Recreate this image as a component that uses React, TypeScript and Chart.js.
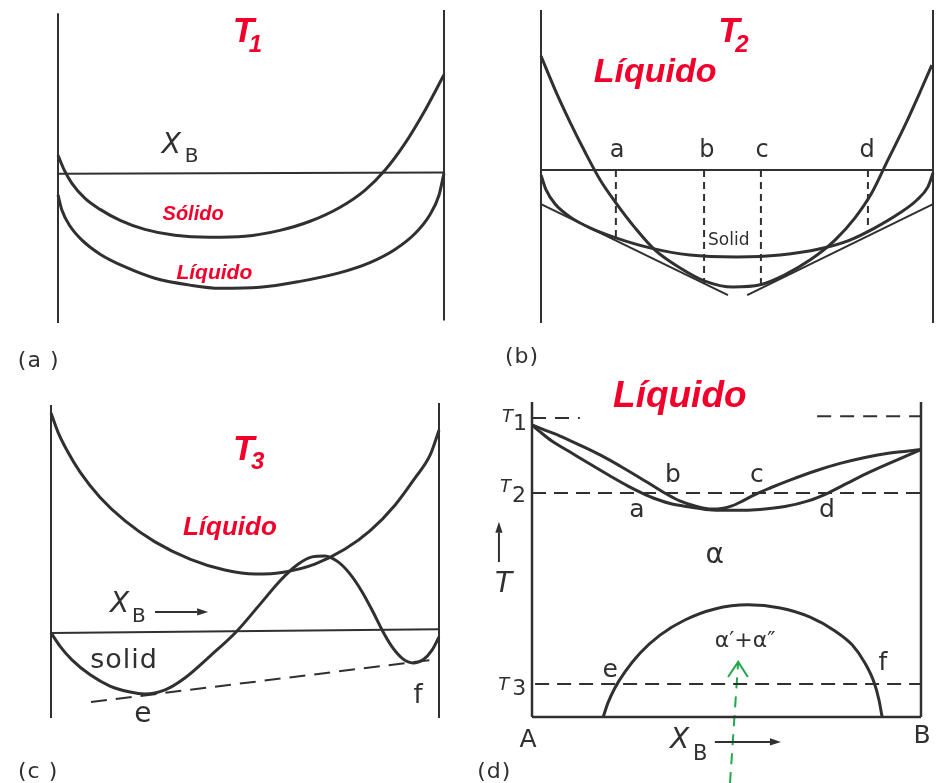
import { useEffect, useRef } from "react";
import { Chart, registerables } from "chart.js";

Chart.register(...registerables);

// ---------- Panel (a): free energy curves at T1 ----------
const aSolidX = [0, 0.016, 0.036, 0.07, 0.109, 0.161, 0.225, 0.303, 0.394, 0.484, 0.575, 0.653, 0.731, 0.795, 0.847, 0.899, 0.951, 1];
const aSolidG = [5.9, 1.2, -3.1, -7.9, -11.4, -14.9, -17.8, -19.7, -20.3, -20.0, -18.1, -15.2, -10.7, -5.3, 1.1, 9.7, 20.3, 31.6];
const aLiquidX = [0, 0.01, 0.031, 0.062, 0.109, 0.174, 0.251, 0.342, 0.42, 0.523, 0.627, 0.731, 0.808, 0.873, 0.925, 0.964, 0.987, 1];
const aLiquidG = [-6.8, -11.6, -16.7, -21.2, -25.7, -29.8, -33.4, -35.6, -36.6, -36.3, -34.4, -31.6, -28.4, -24.2, -19.1, -13.0, -6.9, 0.2];

// ---------- Panel (b): free energy curves at T2 ----------
const bLiquidX = [0, 0.036, 0.074, 0.112, 0.151, 0.191, 0.24, 0.291, 0.355, 0.418, 0.49, 0.559, 0.622, 0.686, 0.75, 0.801, 0.844, 0.885, 0.929, 0.967, 0.997];
const bLiquidG = [36.4, 25.6, 15.3, 5.8, -3.2, -10.5, -18.5, -25.6, -31.3, -35.5, -37.4, -36.7, -33.5, -28.8, -22.4, -15.3, -7.3, 3.2, 14.4, 24.9, 33.5];
const bSolidX = [0, 0.013, 0.036, 0.074, 0.125, 0.191, 0.278, 0.38, 0.5, 0.61, 0.712, 0.788, 0.852, 0.916, 0.959, 0.987, 1];
const bSolidG = [-1.6, -6.4, -10.9, -15.0, -18.5, -21.7, -24.9, -27.2, -27.8, -27.2, -25.2, -22.4, -18.5, -13.7, -9.6, -5.4, -1.0];
const bTangentLeftX = [0, 0.477];
const bTangentLeftG = [-10.9, -40.0];
const bTangentRightX = [0.526, 1];
const bTangentRightG = [-40.0, -10.9];
const bTieLabels = ["a", "b", "c", "d"];
const bTieX = [0.191, 0.416, 0.561, 0.834];
const bTieG = [-21.7, -36.1, -36.7, -20.1];
const bTieLabelX = [0.194, 0.423, 0.564, 0.832];

// ---------- Panel (c): free energy curves at T3 ----------
const cLiquidX = [0, 0.018, 0.041, 0.075, 0.126, 0.191, 0.268, 0.358, 0.448, 0.526, 0.603, 0.68, 0.758, 0.822, 0.887, 0.938, 0.977, 1];
const cLiquidG = [70.0, 63.9, 58.1, 51.1, 43.1, 35.5, 28.8, 23.3, 19.8, 18.5, 19.2, 21.7, 26.5, 32.3, 40.6, 49.2, 56.5, 64.5];
const cSolidX = [0, 0.023, 0.054, 0.101, 0.152, 0.204, 0.242, 0.294, 0.345, 0.41, 0.477, 0.539, 0.59, 0.634, 0.673, 0.706, 0.74, 0.771, 0.802, 0.83, 0.856, 0.881, 0.907, 0.933, 0.959, 0.982, 1];
const cSolidG = [-0.3, -4.5, -8.9, -13.7, -17.3, -19.2, -19.8, -18.5, -14.7, -7.7, 0, 8.9, 16.3, 21.4, 24.0, 24.3, 22.4, 18.5, 12.8, 6.4, 0, -5.1, -8.6, -9.9, -8.9, -5.8, -1.6];
const cTangentX = [0.103, 0.982];
const cTangentG = [-22.4, -8.9];

// ---------- Panel (d): phase diagram ----------
const T1 = 94.9;
const T2 = 71.1;
const T3 = 10.5;
const dLiquidusX = [0, 0.033, 0.072, 0.123, 0.175, 0.226, 0.278, 0.316, 0.35, 0.38, 0.419, 0.463, 0.488, 0.514, 0.542, 0.573, 0.612, 0.663, 0.728, 0.792, 0.856, 0.92, 1];
const dLiquidusT = [92.7, 91.1, 89.2, 86.3, 83.2, 79.7, 75.9, 73.0, 70.5, 68.6, 67.0, 66.0, 66.2, 67.0, 68.6, 70.6, 72.7, 75.2, 78.1, 80.5, 82.4, 83.8, 84.9];
const dSolidusX = [0, 0.021, 0.051, 0.098, 0.149, 0.201, 0.247, 0.283, 0.319, 0.36, 0.406, 0.463, 0.522, 0.586, 0.65, 0.71, 0.761, 0.812, 0.869, 0.933, 1];
const dSolidusT = [92.7, 90.5, 87.6, 84.1, 80.3, 76.5, 73.3, 71.1, 69.2, 67.6, 66.7, 65.7, 65.6, 65.9, 66.8, 68.6, 71.1, 74.3, 77.8, 81.3, 84.9];
const dGapX = [0.183, 0.195, 0.213, 0.239, 0.278, 0.329, 0.393, 0.47, 0.555, 0.638, 0.715, 0.779, 0.823, 0.856, 0.879, 0.892, 0.9];
const dGapT = [0, 4.4, 9.2, 14.3, 20.3, 26.0, 30.8, 34.3, 35.6, 34.6, 31.7, 27.3, 22.9, 17.1, 11.1, 5.4, 0];

// ---------- styling ----------
const INK = "#303030";
const RED = "#f0002a";
const GREEN = "#22a84c";
const SANS = '"DejaVu Sans"';
const ARIAL = '"Liberation Sans"';
const W = 941;
const H = 783;

type Label = {
  text: string;
  x: number;
  y: number;
  font: string;
  color?: string;
  align?: CanvasTextAlign;
  sub?: string;
  subFont?: string;
  subDx?: number;
  subDy?: number;
  spacing?: number;
};

// Arrow from (x1, y1) to (x2, y2) in the panel's own units
type Arrow = { x1: number; y1: number; x2: number; y2: number };

const pts = (xs: number[], ys: number[]) => xs.map((x, i) => ({ x, y: ys[i] }));

function curve(xs: number[], ys: number[], extra: Record<string, unknown> = {}) {
  return {
    data: pts(xs, ys),
    borderColor: INK,
    borderWidth: 3,
    pointRadius: 0,
    cubicInterpolationMode: "monotone",
    fill: false,
    clip: false as const,
    ...extra,
  };
}

function straight(xs: number[], ys: number[], extra: Record<string, unknown> = {}) {
  return {
    data: pts(xs, ys),
    borderColor: INK,
    borderWidth: 2,
    pointRadius: 0,
    tension: 0,
    fill: false,
    clip: false as const,
    ...extra,
  };
}

function overlayPlugin(items: Label[], arrows: Arrow[]) {
  return {
    id: "panelOverlay",
    afterDatasetsDraw(chart: Chart) {
      const { ctx } = chart;
      const xs = chart.scales.x;
      const ys = chart.scales.y;
      for (const a of arrows) {
        const x1 = xs.getPixelForValue(a.x1);
        const y1 = ys.getPixelForValue(a.y1);
        const x2 = xs.getPixelForValue(a.x2);
        const y2 = ys.getPixelForValue(a.y2);
        const ang = Math.atan2(y2 - y1, x2 - x1);
        const len = 11;
        const half = 3.6;
        const bx = x2 - len * Math.cos(ang);
        const by = y2 - len * Math.sin(ang);
        ctx.save();
        ctx.strokeStyle = INK;
        ctx.fillStyle = INK;
        ctx.lineWidth = 2;
        ctx.beginPath();
        ctx.moveTo(x1, y1);
        ctx.lineTo(bx, by);
        ctx.stroke();
        ctx.beginPath();
        ctx.moveTo(x2, y2);
        ctx.lineTo(bx + half * Math.sin(ang), by - half * Math.cos(ang));
        ctx.lineTo(bx - half * Math.sin(ang), by + half * Math.cos(ang));
        ctx.closePath();
        ctx.fill();
        ctx.restore();
      }
      for (const t of items) {
        ctx.save();
        const px = xs.getPixelForValue(t.x);
        const py = ys.getPixelForValue(t.y);
        ctx.font = t.font;
        ctx.fillStyle = t.color ?? INK;
        ctx.textAlign = t.align ?? "left";
        ctx.textBaseline = "alphabetic";
        (ctx as any).letterSpacing = `${t.spacing ?? 0}px`;
        ctx.fillText(t.text, px, py);
        if (t.sub) {
          ctx.font = t.subFont ?? t.font;
          ctx.textAlign = "left";
          (ctx as any).letterSpacing = "0px";
          ctx.fillText(t.sub, px + (t.subDx ?? 0), py + (t.subDy ?? 0));
        }
        ctx.restore();
      }
    },
  };
}

type PanelSpec = {
  box: { left: number; top: number; right: number; bottom: number };
  yMin: number;
  yMax: number;
  datasets: any[];
  labels: Label[];
  arrows: Arrow[];
};

const redT = `bold italic 35px ${ARIAL}`;
const redSub = `bold italic 24px ${ARIAL}`;
const tag = `22px ${SANS}`;
const letter = `25px ${SANS}`;

const panels: PanelSpec[] = [
  {
    box: { left: 58, top: 10, right: 444, bottom: 323 },
    yMin: -47.7,
    yMax: 52.3,
    datasets: [
      straight([0, 0], [-47.7, 51.3]),
      straight([1, 1], [-46.9, 52.3]),
      straight([0, 1], [0, 0.4]),
      curve(aSolidX, aSolidG),
      curve(aLiquidX, aLiquidG),
    ],
    arrows: [],
    labels: [
      { text: "T", sub: "1", x: 0.453, y: 42.0, font: redT, subFont: redSub, subDx: 16, subDy: 10, color: RED },
      { text: "Sólido", x: 0.35, y: -14.8, font: `bold italic 20px ${ARIAL}`, color: RED, align: "center" },
      { text: "Líquido", x: 0.405, y: -33.7, font: `bold italic 21px ${ARIAL}`, color: RED, align: "center" },
      { text: "X", sub: "B", x: 0.269, y: 6.6, font: `italic 28px ${SANS}`, subFont: `20px ${SANS}`, subDx: 23, subDy: 9 },
      { text: "(a )", x: -0.104, y: -61.8, font: tag, spacing: 1 },
    ],
  },
  {
    box: { left: 541, top: 10, right: 933, bottom: 323 },
    yMin: -48.9,
    yMax: 51.1,
    datasets: [
      straight([0, 0], [-48.9, 51.1]),
      straight([1, 1], [-48.9, 51.1]),
      straight([0, 1], [0, 0]),
      curve(bLiquidX, bLiquidG),
      curve(bSolidX, bSolidG),
      straight(bTangentLeftX, bTangentLeftG),
      straight(bTangentRightX, bTangentRightG),
      ...bTieX.map((x, i) => straight([x, x], [0, bTieG[i]], { borderDash: [7, 5] })),
    ],
    arrows: [],
    labels: [
      { text: "T", sub: "2", x: 0.452, y: 40.9, font: redT, subFont: redSub, subDx: 17, subDy: 10, color: RED },
      { text: "Líquido", x: 0.291, y: 28.1, font: `bold italic 34px ${ARIAL}`, color: RED, align: "center" },
      ...bTieLabels.map((s, i) => ({
        text: s,
        x: bTieLabelX[i],
        y: 4.2,
        font: `24px ${SANS}`,
        align: "center" as CanvasTextAlign,
      })),
      { text: "Solid", x: 0.426, y: -24.0, font: `17px ${SANS}` },
      { text: "(b)", x: -0.092, y: -61.7, font: tag, spacing: 1 },
    ],
  },
  {
    box: { left: 51, top: 403, right: 439, bottom: 718 },
    yMin: -27.5,
    yMax: 73.2,
    datasets: [
      straight([0, 0], [-27.5, 72.6]),
      straight([1, 1], [-27.5, 73.2]),
      straight([0, 1], [-0.3, 0.9]),
      curve(cLiquidX, cLiquidG),
      curve(cSolidX, cSolidG),
      straight(cTangentX, cTangentG, { borderDash: [16, 9] }),
    ],
    arrows: [{ x1: 0.268, y1: 6.4, x2: 0.405, y2: 6.4 }],
    labels: [
      { text: "T", sub: "3", x: 0.469, y: 55.0, font: redT, subFont: redSub, subDx: 18, subDy: 9, color: RED },
      { text: "Líquido", x: 0.461, y: 31.0, font: `bold italic 26px ${ARIAL}`, color: RED, align: "center" },
      { text: "X", sub: "B", x: 0.152, y: 6.4, font: `italic 28px ${SANS}`, subFont: `20px ${SANS}`, subDx: 22, subDy: 10 },
      { text: "solid", x: 0.101, y: -11.5, font: `27px ${SANS}`, spacing: 1 },
      { text: "e", x: 0.237, y: -28.8, font: `28px ${SANS}`, align: "center" },
      { text: "f", x: 0.946, y: -22.7, font: `26px ${SANS}`, align: "center" },
      { text: "(c )", x: -0.085, y: -46.6, font: tag, spacing: 1 },
    ],
  },
  {
    box: { left: 532, top: 402, right: 921, bottom: 717 },
    yMin: 0,
    yMax: 100,
    datasets: [
      straight([0, 0], [0, 100], { borderWidth: 2.5 }),
      straight([1, 1], [0, 100], { borderWidth: 2.5 }),
      straight([0, 1], [0, 0], { borderWidth: 2.5 }),
      straight([0, 0.123], [T1, T1], { borderDash: [14, 9] }),
      straight([0.733, 1], [T1 + 0.6, T1 + 0.6], { borderDash: [14, 9] }),
      straight([0, 1], [T2, T2], { borderDash: [14, 8] }),
      straight([0.008, 1], [T3, T3], { borderDash: [14, 8] }),
      curve(dLiquidusX, dLiquidusT),
      curve(dSolidusX, dSolidusT),
      curve(dGapX, dGapT),
      straight([0.509, 0.53], [-21, 17.5], { borderColor: GREEN, borderDash: [11, 8] }),
      straight([0.504, 0.53, 0.555], [12.7, 17.5, 12.7], { borderColor: GREEN }),
    ],
    arrows: [
      { x1: -0.085, y1: 49.2, x2: -0.085, y2: 62.0 },
      { x1: 0.47, y1: -7.9, x2: 0.64, y2: -7.9 },
    ],
    labels: [
      { text: "Líquido", x: 0.38, y: 98.4, font: `bold italic 37px ${ARIAL}`, color: RED, align: "center" },
      { text: "T", sub: "1", x: -0.077, y: 93.7, font: `italic 18px ${SANS}`, subFont: `22px ${SANS}`, subDx: 11, subDy: 8 },
      { text: "T", sub: "2", x: -0.082, y: 71.4, font: `italic 18px ${SANS}`, subFont: `22px ${SANS}`, subDx: 12, subDy: 10 },
      { text: "T", sub: "3", x: -0.087, y: 8.6, font: `italic 18px ${SANS}`, subFont: `22px ${SANS}`, subDx: 14, subDy: 5 },
      { text: "T", x: -0.095, y: 39.7, font: `italic 28px ${SANS}` },
      { text: "α", x: 0.47, y: 48.9, font: `28px ${SANS}`, align: "center" },
      { text: "α′+α″", x: 0.548, y: 22.2, font: `22px ${SANS}`, align: "center" },
      { text: "a", x: 0.27, y: 63.5, font: letter, align: "center" },
      { text: "b", x: 0.362, y: 74.6, font: letter, align: "center" },
      { text: "c", x: 0.578, y: 74.6, font: letter, align: "center" },
      { text: "d", x: 0.758, y: 63.5, font: letter, align: "center" },
      { text: "e", x: 0.201, y: 12.7, font: letter, align: "center" },
      { text: "f", x: 0.902, y: 14.9, font: letter, align: "center" },
      { text: "A", x: -0.01, y: -9.5, font: letter, align: "center" },
      { text: "B", x: 1.003, y: -8.3, font: letter, align: "center" },
      { text: "X", sub: "B", x: 0.355, y: -9.8, font: `italic 28px ${SANS}`, subFont: `21px ${SANS}`, subDx: 23, subDy: 12 },
      { text: "(d)", x: -0.141, y: -19.4, font: tag, spacing: 1 },
    ],
  },
];

function Panel({ spec }: { spec: PanelSpec }) {
  const ref = useRef<HTMLCanvasElement | null>(null);
  useEffect(() => {
    const canvas = ref.current;
    if (!canvas) return;
    const { box } = spec;
    const chart = new Chart(canvas, {
      type: "line",
      data: { datasets: spec.datasets },
      options: {
        responsive: false,
        animation: false,
        devicePixelRatio: 1,
        events: [],
        elements: { line: { capBezierPoints: false } },
        layout: {
          padding: { left: box.left, top: box.top, right: W - box.right, bottom: H - box.bottom },
        },
        scales: {
          x: { type: "linear", min: 0, max: 1, display: false },
          y: { type: "linear", min: spec.yMin, max: spec.yMax, display: false },
        },
        plugins: { legend: { display: false }, tooltip: { enabled: false } },
      },
      plugins: [overlayPlugin(spec.labels, spec.arrows)],
    });
    return () => chart.destroy();
  }, [spec]);
  return (
    <canvas
      ref={ref}
      width={W}
      height={H}
      style={{ position: "absolute", left: 0, top: 0, width: W, height: H }}
    />
  );
}

export default function App() {
  return (
    <div style={{ position: "fixed", left: 0, top: 0, width: W, height: H, background: "#ffffff", overflow: "hidden" }}>
      {panels.map((p, i) => (
        <Panel key={i} spec={p} />
      ))}
    </div>
  );
}
